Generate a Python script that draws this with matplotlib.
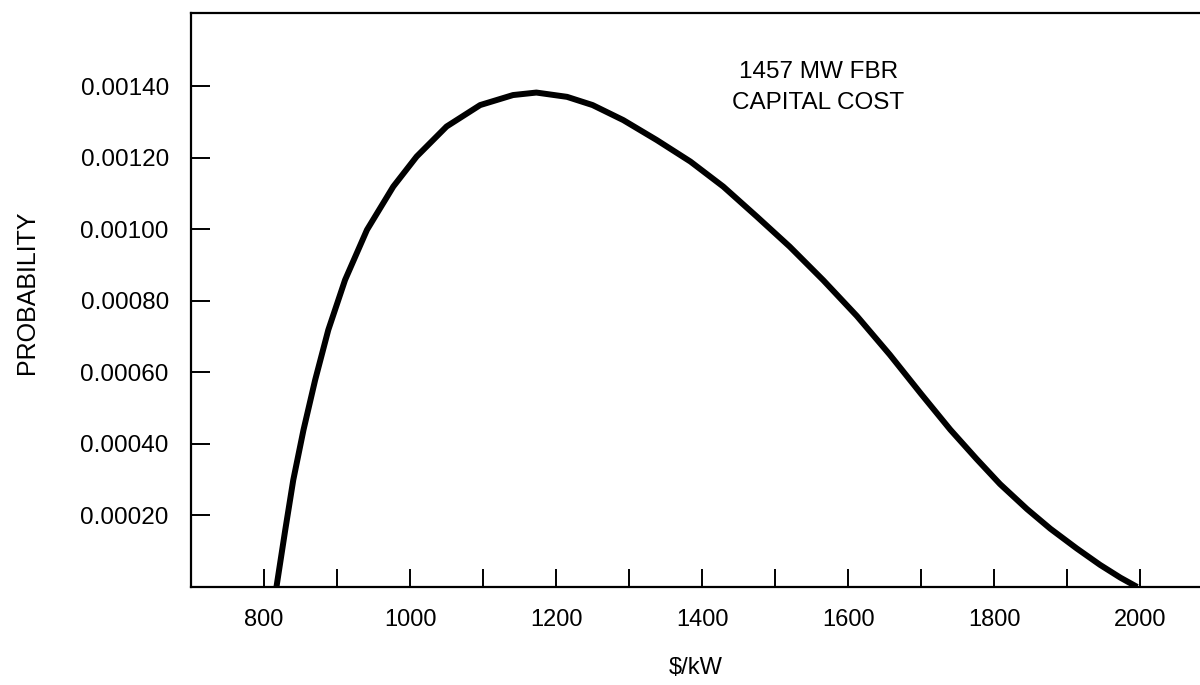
import matplotlib
matplotlib.use("Agg")
import matplotlib.pyplot as plt

# Data
cost = [817, 829, 840, 854, 870, 888, 911, 941, 977, 1009, 1050, 1096, 1141,
        1173, 1215, 1250, 1292, 1338, 1384, 1429, 1475, 1520, 1566, 1612,
        1657, 1700, 1740, 1776, 1808, 1845, 1877, 1913, 1945, 1973, 1996]
prob = [0.0, 0.000159, 0.000299, 0.000439, 0.000579, 0.000719, 0.000859,
        0.000999, 0.001120, 0.001204, 0.001288, 0.001348, 0.001376, 0.001383,
        0.001371, 0.001348, 0.001306, 0.001250, 0.001190, 0.001120, 0.001036,
        0.000952, 0.000858, 0.000758, 0.000650, 0.000540, 0.000440, 0.000358,
        0.000288, 0.000218, 0.000163, 0.000108, 0.000062, 0.000026, 0.0]

x_major = [800, 1000, 1200, 1400, 1600, 1800, 2000]
x_minor = [900, 1100, 1300, 1500, 1700, 1900]
y_ticks = [0.00020, 0.00040, 0.00060, 0.00080, 0.00100, 0.00120, 0.00140]
y_labels = ["0.00020", "0.00040", "0.00060", "0.00080", "0.00100", "0.00120", "0.00140"]
x_label = "$/kW"
y_label = "PROBABILITY"
note = "1457 MW FBR\nCAPITAL COST"

plt.rcParams["font.family"] = ["Liberation Sans", "DejaVu Sans"]

fig = plt.figure(figsize=(12, 6.85), dpi=100)
ax = fig.add_axes([0.1592, 0.1431, 0.8408, 0.8379])

ax.plot(cost, prob, color="black", linewidth=4.3, solid_capstyle="butt",
        solid_joinstyle="round")

ax.set_xlim(700, 2082)
ax.set_ylim(0, 0.0016055)

ax.set_xticks(x_major)
ax.set_xticklabels([str(v) for v in x_major], fontsize=17)
ax.set_xticks(x_minor, minor=True)
ax.set_yticks(y_ticks)
ax.set_yticklabels(y_labels, fontsize=17.5)

ax.tick_params(axis="x", which="both", direction="in", length=13, width=1.4, pad=16)
ax.tick_params(axis="y", which="both", direction="in", length=14, width=1.4, pad=16)

for s in ["left", "bottom", "top"]:
    ax.spines[s].set_linewidth(1.6)
ax.spines["right"].set_visible(False)

ax.set_xlabel(x_label, fontsize=17)
ax.set_ylabel(y_label, fontsize=18)
ax.yaxis.set_label_coords(-0.151, 0.513)
ax.xaxis.set_label_coords(0.5, -0.122)

ax.text(1559, 0.001398, note, ha="center", va="center", fontsize=17.5,
        linespacing=1.55)

fig.savefig("out.png", dpi=100)
